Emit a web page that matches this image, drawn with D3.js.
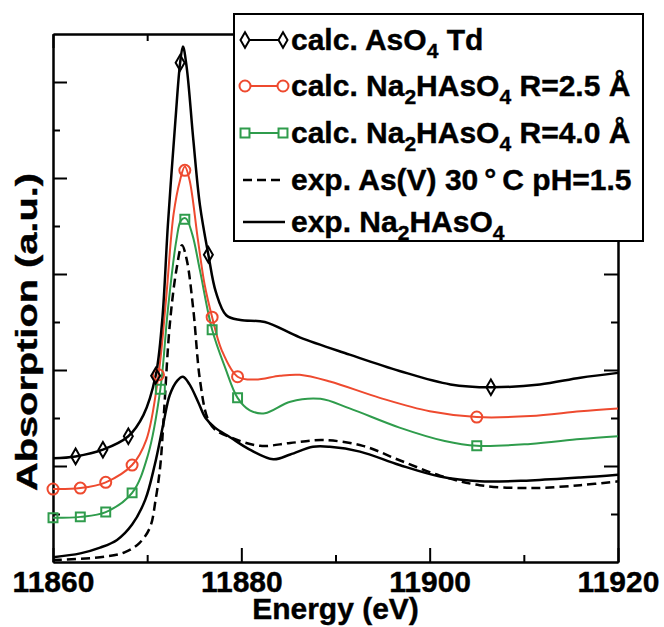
<!DOCTYPE html>
<html>
<head>
    <style>
        body { margin: 0; background: #fff; }
        text { font-family: "Liberation Sans", Arial, sans-serif; font-weight: bold; fill: #000; stroke: #000; stroke-width: 0.4px; }
        .axis path, .axis line { stroke: #000; stroke-width: 2; }
    </style>
    <script src="https://cdnjs.cloudflare.com/ajax/libs/d3/7.8.5/d3.min.js"></script>
</head>
<body>
<svg width="664" height="627"></svg>
<script>
// ---- data (energy in eV, absorption in a.u.) ----
var tdEnergy = [11860.0, 11862.4, 11865.3, 11868.0, 11869.6, 11870.9, 11871.6, 11872.2, 11873.0, 11873.5, 11873.8, 11874.2, 11874.9, 11875.6, 11876.5, 11877.3, 11878.4, 11879.9, 11882.5, 11886.2, 11891.5, 11896.8, 11902.2, 11906.5, 11911.7, 11916.0, 11920.0];
var tdAbs    = [1.08, 1.10, 1.17, 1.31, 1.53, 1.94, 2.52, 3.51, 4.60, 5.20, 5.37, 5.15, 4.40, 3.72, 3.20, 2.81, 2.57, 2.52, 2.50, 2.34, 2.16, 1.99, 1.85, 1.82, 1.85, 1.92, 1.97];

var r25Energy = [11860.0, 11862.9, 11865.6, 11868.4, 11869.9, 11871.2, 11872.0, 11872.8, 11873.5, 11874.0, 11874.5, 11875.4, 11876.1, 11876.9, 11877.9, 11879.6, 11881.5, 11884.1, 11886.2, 11889.4, 11894.7, 11900.0, 11905.0, 11910.7, 11916.0, 11920.0];
var r25Abs    = [0.76, 0.77, 0.83, 1.01, 1.27, 1.95, 2.73, 3.62, 3.98, 4.12, 3.98, 3.35, 2.89, 2.55, 2.21, 1.93, 1.90, 1.94, 1.95, 1.88, 1.71, 1.57, 1.51, 1.52, 1.57, 1.60];

var r40Energy = [11860.0, 11862.9, 11865.6, 11868.4, 11870.1, 11871.4, 11872.2, 11873.1, 11873.6, 11874.1, 11874.8, 11875.6, 11876.9, 11878.3, 11879.6, 11880.9, 11882.5, 11885.2, 11888.4, 11891.5, 11896.8, 11901.6, 11905.0, 11910.7, 11916.0, 11920.0];
var r40Abs    = [0.46, 0.47, 0.52, 0.72, 1.12, 1.80, 2.63, 3.35, 3.56, 3.58, 3.41, 3.04, 2.42, 2.02, 1.71, 1.58, 1.55, 1.67, 1.70, 1.60, 1.40, 1.26, 1.21, 1.23, 1.28, 1.31];

var expAsEnergy = [11860.0, 11865.0, 11867.6, 11869.2, 11870.3, 11870.9, 11871.4, 11871.8, 11872.4, 11873.1, 11873.7, 11874.2, 11874.9, 11875.6, 11876.4, 11877.2, 11878.8, 11882.0, 11885.2, 11888.7, 11892.9, 11896.8, 11901.1, 11905.3, 11910.7, 11916.0, 11920.0];
var expAsAbs    = [0.02, 0.05, 0.10, 0.20, 0.36, 0.65, 1.01, 1.58, 2.47, 3.04, 3.30, 3.15, 2.63, 1.90, 1.50, 1.38, 1.30, 1.21, 1.24, 1.27, 1.21, 1.06, 0.90, 0.80, 0.77, 0.80, 0.84];

var expNaEnergy = [11860.0, 11862.9, 11865.0, 11866.8, 11868.4, 11869.8, 11870.8, 11871.7, 11872.4, 11873.2, 11873.8, 11874.5, 11875.4, 11876.2, 11877.2, 11878.8, 11880.9, 11883.4, 11885.2, 11887.6, 11889.4, 11892.6, 11896.8, 11901.1, 11905.3, 11910.7, 11916.0, 11920.0];
var expNaAbs    = [0.05, 0.09, 0.15, 0.23, 0.39, 0.65, 1.01, 1.43, 1.74, 1.89, 1.93, 1.85, 1.67, 1.50, 1.40, 1.30, 1.17, 1.07, 1.12, 1.20, 1.20, 1.15, 1.01, 0.89, 0.84, 0.85, 0.88, 0.91];

// symbol positions
var tdMarkE  = [11862.4, 11865.3, 11868.0, 11870.9, 11873.5, 11876.5, 11906.5];
var tdMarkA  = [1.10, 1.17, 1.31, 1.94, 5.20, 3.20, 1.82];
var r25MarkE = [11860.0, 11862.9, 11865.6, 11868.4, 11871.2, 11874.0, 11876.9, 11879.6, 11905.0];
var r25MarkA = [0.76, 0.77, 0.83, 1.01, 1.95, 4.08, 2.55, 1.93, 1.51];
var r40MarkE = [11860.0, 11862.9, 11865.6, 11868.4, 11871.4, 11874.0, 11876.9, 11879.6, 11905.0];
var r40MarkA = [0.46, 0.47, 0.52, 0.72, 1.80, 3.57, 2.42, 1.71, 1.21];

var xMajor = [11860, 11880, 11900, 11920];
var xMinor = [11870, 11890, 11910];
var yMajor = [1, 2, 3, 4, 5];
var yMinor = [0.5, 1.5, 2.5, 3.5, 4.5];

var red = "#ee4a2f", green = "#2f9c4c";

var svg = d3.select("svg");
var pl = 53, pr = 618, pt = 34, pb = 562;

var x = d3.scaleLinear().domain([11860, 11920]).range([pl, pr]);
var y = d3.scaleLinear().domain([0, 5.5]).range([pb, pt]);

function zip(e, a) { return e.map(function(v, i) { return [v, a[i]]; }); }

var line = d3.line()
    .x(function(d) { return x(d[0]); })
    .y(function(d) { return y(d[1]); })
    .curve(d3.curveCatmullRom.alpha(0.5));

// ---- axes (ticks point inward) ----
function ax(gen, tr, vals, size, fmt) {
    var a = gen.tickValues(vals).tickSize(-size).tickSizeOuter(0);
    if (!fmt) a.tickFormat("");
    return svg.append("g").attr("class", "axis").attr("transform", tr).call(a);
}
ax(d3.axisBottom(x), "translate(0," + pb + ")", xMinor, 7);
var gx = ax(d3.axisBottom(x).tickPadding(9), "translate(0," + pb + ")", xMajor, 14, true);
gx.selectAll("text").style("font-size", "30px").text(d3.format("d"));
ax(d3.axisTop(x), "translate(0," + pt + ")", xMinor, 7);
ax(d3.axisTop(x), "translate(0," + pt + ")", xMajor, 14);
ax(d3.axisLeft(y), "translate(" + pl + ",0)", yMinor, 7);
ax(d3.axisLeft(y), "translate(" + pl + ",0)", yMajor, 14);
ax(d3.axisRight(y), "translate(" + pr + ",0)", yMinor, 7);
ax(d3.axisRight(y), "translate(" + pr + ",0)", yMajor, 14);

svg.append("text")
    .attr("x", (pl + pr) / 2).attr("y", 619)
    .attr("text-anchor", "middle").style("font-size", "30px")
    .text("Energy (eV)");

svg.append("text")
    .attr("transform", "translate(37,332) rotate(-90)")
    .attr("text-anchor", "middle").style("font-size", "30px")
    .attr("textLength", 318).attr("lengthAdjust", "spacingAndGlyphs")
    .text("Absorption (a.u.)");

// ---- curves ----
svg.append("path").datum(zip(expNaEnergy, expNaAbs)).attr("d", line)
    .attr("fill", "none").attr("stroke", "#000").attr("stroke-width", 2.5);
svg.append("path").datum(zip(expAsEnergy, expAsAbs)).attr("d", line)
    .attr("fill", "none").attr("stroke", "#000").attr("stroke-width", 2.5)
    .attr("stroke-dasharray", "9,5");
svg.append("path").datum(zip(r40Energy, r40Abs)).attr("d", line)
    .attr("fill", "none").attr("stroke", green).attr("stroke-width", 2);
svg.append("path").datum(zip(r25Energy, r25Abs)).attr("d", line)
    .attr("fill", "none").attr("stroke", red).attr("stroke-width", 2);
svg.append("path").datum(zip(tdEnergy, tdAbs)).attr("d", line)
    .attr("fill", "none").attr("stroke", "#000").attr("stroke-width", 2.5);

var diamond = d3.symbol().type(d3.symbolDiamond).size(70);
var circle = d3.symbol().type(d3.symbolCircle).size(95);
var square = d3.symbol().type(d3.symbolSquare).size(80);

function marks(e, a, sym, color) {
    svg.append("g").selectAll("path").data(zip(e, a)).enter().append("path")
        .attr("transform", function(d) { return "translate(" + x(d[0]) + "," + y(d[1]) + ")"; })
        .attr("d", sym).attr("fill", "none").attr("stroke", color).attr("stroke-width", 2);
}
marks(r40MarkE, r40MarkA, square, green);
marks(r25MarkE, r25MarkA, circle, red);
marks(tdMarkE, tdMarkA, diamond, "#000");

// ---- legend ----
var leg = svg.append("g");
leg.append("rect").attr("x", 234).attr("y", 14).attr("width", 409).attr("height", 227)
    .attr("fill", "#fff").attr("stroke", "#000").attr("stroke-width", 2);

var legendRows = [
    { parts: [["calc. AsO", 0], ["4", 1], [" Td", 0]], color: "#000", sym: diamond, dash: null },
    { parts: [["calc. Na", 0], ["2", 1], ["HAsO", 0], ["4", 1], [" R=2.5 \u00c5", 0]], color: red, sym: circle, dash: null },
    { parts: [["calc. Na", 0], ["2", 1], ["HAsO", 0], ["4", 1], [" R=4.0 \u00c5", 0]], color: green, sym: square, dash: null },
    { parts: [["exp. As(V) 30\u2009\u00b0\u2009C pH=1.5", 0]], color: "#000", sym: null, dash: "9,5" },
    { parts: [["exp. Na", 0], ["2", 1], ["HAsO", 0], ["4", 1]], color: "#000", sym: null, dash: null }
];
var rowY = [40, 86, 133, 180, 222];

legendRows.forEach(function(r, i) {
    var cy = rowY[i];
    leg.append("line").attr("x1", 243).attr("x2", 285).attr("y1", cy).attr("y2", cy)
        .attr("stroke", r.color).attr("stroke-width", r.sym ? 2 : 2.5)
        .attr("stroke-dasharray", r.dash);
    if (r.sym) {
        [245, 283].forEach(function(px) {
            leg.append("path").attr("transform", "translate(" + px + "," + cy + ")")
                .attr("d", r.sym).attr("fill", "#fff").attr("stroke", r.color).attr("stroke-width", 2);
        });
    }
    var t = leg.append("text").attr("x", 291).attr("y", cy + 10).style("font-size", "30px");
    var shifted = false;
    r.parts.forEach(function(p) {
        var ts = t.append("tspan").text(p[0]);
        if (p[1] && !shifted) { ts.attr("dy", 8).style("font-size", "21px"); shifted = true; }
        else if (!p[1] && shifted) { ts.attr("dy", -8); shifted = false; }
        else if (p[1]) { ts.style("font-size", "21px"); }
    });
});
</script>
</body>
</html>
